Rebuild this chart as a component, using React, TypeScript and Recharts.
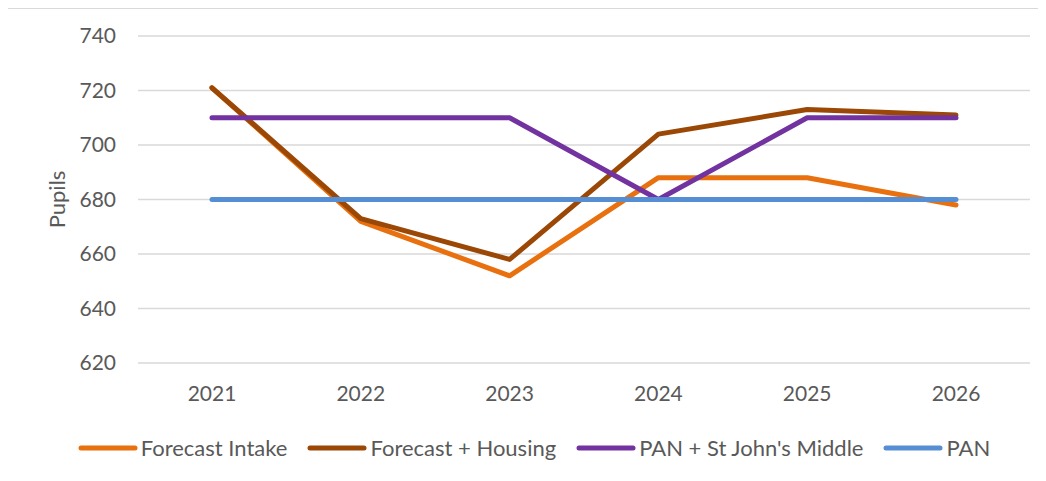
import {
  LineChart,
  Line,
  XAxis,
  YAxis,
  CartesianGrid,
  Legend,
} from "recharts";

const years = ["2021", "2022", "2023", "2024", "2025", "2026"];
const forecastIntake = [721, 672, 652, 688, 688, 678];
const forecastHousing = [721, 673, 658, 704, 713, 711];
const panStJohns = [710, 710, 710, 680, 710, 710];
const pan = [680, 680, 680, 680, 680, 680];
const yTicks = [620, 640, 660, 680, 700, 720, 740];

const series = [
  { key: "intake", name: "Forecast Intake", color: "#E8700E" },
  { key: "housing", name: "Forecast + Housing", color: "#9B4806" },
  { key: "stjohns", name: "PAN + St John's Middle", color: "#7232A0" },
  { key: "pan", name: "PAN", color: "#568ED4" },
];

const data = years.map((year, i) => ({
  year,
  intake: forecastIntake[i],
  housing: forecastHousing[i],
  stjohns: panStJohns[i],
  pan: pan[i],
}));

const FONT = "Lato, 'Open Sans', sans-serif";
const TEXT = "#595959";

function LegendRow() {
  return (
    <div
      style={{
        display: "flex",
        justifyContent: "center",
        gap: 20,
        fontFamily: FONT,
        fontSize: 22,
        color: TEXT,
        paddingTop: 1,
        marginLeft: 30,
      }}
    >
      {series.map((s) => (
        <div key={s.key} style={{ display: "flex", alignItems: "center" }}>
          <svg width={60} height={10} style={{ marginRight: 3 }}>
            <line
              x1={3}
              y1={5}
              x2={57}
              y2={5}
              stroke={s.color}
              strokeWidth={5}
              strokeLinecap="round"
            />
          </svg>
          <span>{s.name}</span>
        </div>
      ))}
    </div>
  );
}

export default function App() {
  return (
    <div
      style={{
        width: 1038,
        height: 473,
        marginLeft: -1,
        borderTop: "1px solid #d9d9d9",
        borderLeft: "1px solid #d9d9d9",
        overflow: "hidden",
      }}
    >
      <LineChart
        width={1038}
        height={472}
        data={data}
        margin={{ top: 27, right: 16, bottom: 0, left: 0 }}
      >
        <CartesianGrid vertical={false} stroke="#d9d9d9" strokeWidth={1.5} />
        <XAxis
          dataKey="year"
          axisLine={false}
          tickLine={false}
          tickSize={0}
          tickMargin={23}
          height={70}
          padding={{ left: 74, right: 74 }}
          tick={{ fill: TEXT, fontSize: 21, fontFamily: FONT }}
        />
        <YAxis
          domain={[620, 740]}
          ticks={yTicks}
          width={130}
          axisLine={false}
          tickLine={false}
          tickSize={0}
          tickMargin={22}
          tick={{ fill: TEXT, fontSize: 21, fontFamily: FONT }}
          label={{
            value: "Pupils",
            content: ({ viewBox }: any) => {
              const cy = viewBox.y + viewBox.height / 2;
              return (
                <text
                  x={48}
                  y={cy}
                  transform={`rotate(-90, 48, ${cy})`}
                  textAnchor="middle"
                  dominantBaseline="central"
                  fill={TEXT}
                  fontSize={22}
                  fontFamily={FONT}
                >
                  Pupils
                </text>
              );
            },
          }}
        />
        <Legend
          verticalAlign="bottom"
          height={48}
          content={() => <LegendRow />}
        />
        {series.map((s) => (
          <Line
            key={s.key}
            dataKey={s.key}
            name={s.name}
            stroke={s.color}
            strokeWidth={5}
            strokeLinecap="round"
            strokeLinejoin="round"
            dot={false}
            activeDot={false}
            isAnimationActive={false}
          />
        ))}
      </LineChart>
    </div>
  );
}
